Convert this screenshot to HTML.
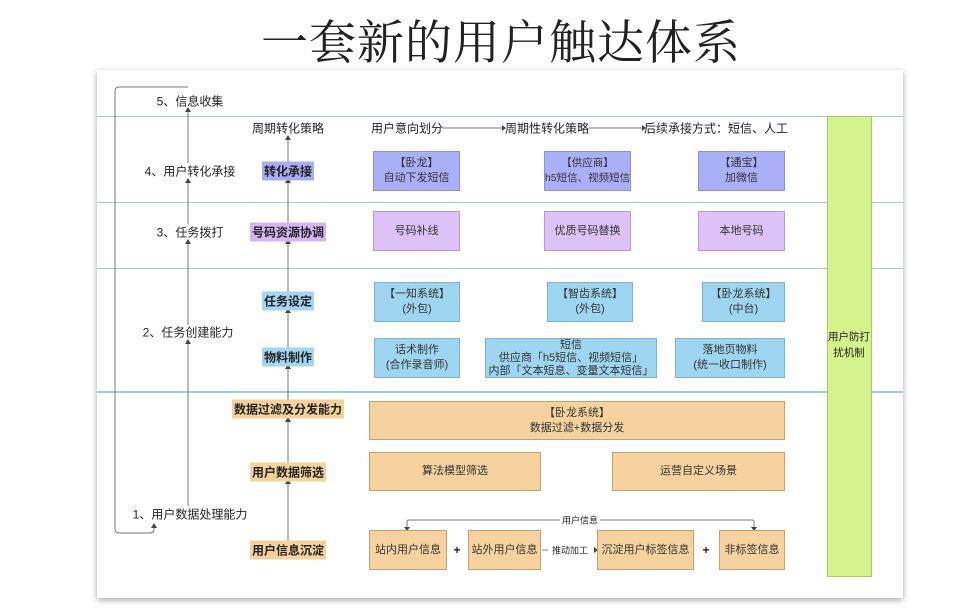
<!DOCTYPE html>
<html><head><meta charset="utf-8"><style>
body{margin:0;width:968px;height:612px;background:#fff;position:relative;overflow:hidden;font-family:"Liberation Sans","Noto Sans CJK SC",sans-serif;color:#222}
.a{position:absolute}
.t{position:absolute;font-size:12px;white-space:nowrap;transform:translate(-50%,-50%)}
.b{position:absolute;display:flex;align-items:center;justify-content:center;text-align:center;font-size:11px;line-height:15px;box-sizing:border-box;color:#333}
.bp{background:#aab0f7;border:1px solid #8b8fd8}
.bl{background:#dcc2f7;border:1px solid #b59ad6}
.bc{background:#9ed6f1;border:1px solid #79b3d0}
.bo{background:#f6d29e;border:1px solid #c9a06a}
.h{position:absolute;left:97px;width:806px;height:1px;background:#9fd0d0}
.tag{padding:1px 2px;font-weight:bold}
</style></head><body>
<div class="a" style="left:0;width:968px;top:6px;text-align:center;font-family:'Noto Serif CJK SC','Liberation Serif',serif;font-size:47px;color:#222;letter-spacing:1px;padding-left:34px;box-sizing:border-box">一套新的用户触达体系</div>
<div class="a" style="left:97px;top:70px;width:806px;height:528px;background:#fff;box-shadow:0 2px 6px rgba(0,0,0,.35)"></div>
<div class="h" style="top:116px"></div><div class="h" style="top:202px"></div><div class="h" style="top:268px"></div><div class="h" style="top:391px;height:2px"></div>
<div class="a" style="left:827px;top:116px;width:45px;height:461px;background:#d4f38a;border:1px solid #a8c86a;box-sizing:border-box"></div>
<div class="t" style="left:849px;top:345px;font-size:10.5px;line-height:16px;text-align:center">用户防打<br>扰机制</div>
<svg class="a" style="left:0;top:0" width="968" height="612">
<g stroke="#777" stroke-width="1" fill="none">
<path d="M188 87 H119 Q115 87 115 91 V529 Q115 533 119 533 H150 Q154 533 154 529 V524"/>
<line x1="188" y1="108" x2="188" y2="163"/><line x1="188" y1="179" x2="188" y2="224"/><line x1="188" y1="240" x2="188" y2="325"/><line x1="188" y1="340" x2="188" y2="506"/>
<line x1="288" y1="136" x2="288" y2="163"/><line x1="288" y1="179" x2="288" y2="224"/><line x1="288" y1="240" x2="288" y2="293"/><line x1="288" y1="309" x2="288" y2="349"/><line x1="288" y1="365" x2="288" y2="401"/><line x1="288" y1="418" x2="288" y2="464"/><line x1="288" y1="480" x2="288" y2="542"/>
<line x1="442" y1="128" x2="503" y2="128"/><line x1="589" y1="128" x2="643" y2="128"/>
<path d="M407 529 V522 Q407 520 409 520 H560 M600 520 H752 Q754 520 754 522 V529"/>
<line x1="542" y1="550" x2="548" y2="550"/>
</g>
<g fill="#444">
<path d="M185 112 L188 107 L191 112Z M185 183 L188 178 L191 183Z M185 244 L188 239 L191 244Z M185 344 L188 339 L191 344Z M151 528 L154 523 L157 528Z"/>
<path d="M285 140 L288 135 L291 140Z M285 183 L288 178 L291 183Z M285 244 L288 239 L291 244Z M285 313 L288 308 L291 313Z M285 369 L288 364 L291 369Z M285 422 L288 417 L291 422Z M285 484 L288 479 L291 484Z"/>
<path d="M502 125 L506 128 L502 131Z M642 125 L646 128 L642 131Z M594 547 L598 550 L594 553Z M404 527 L407 531 L410 527Z M751 527 L754 531 L757 527Z"/>
</g></svg>
<div class="t" style="left:190px;top:101px">5、信息收集</div>
<div class="t" style="left:190px;top:171px">4、用户转化承接</div>
<div class="t" style="left:190px;top:232px">3、任务拨打</div>
<div class="t" style="left:188px;top:332px">2、任务创建能力</div>
<div class="t" style="left:190px;top:514px">1、用户数据处理能力</div>
<div class="t" style="left:288px;top:128px">周期转化策略</div>
<div class="t tag" style="left:288px;top:171px;background:#a9acf5">转化承接</div>
<div class="t tag" style="left:288px;top:232px;background:#d4b6f5">号码资源协调</div>
<div class="t tag" style="left:288px;top:301px;background:#a3d6f2">任务设定</div>
<div class="t tag" style="left:288px;top:357px;background:#a3d6f2">物料制作</div>
<div class="t tag" style="left:288px;top:409px;background:#f5d19c">数据过滤及分发能力</div>
<div class="t tag" style="left:288px;top:472px;background:#f5d19c">用户数据筛选</div>
<div class="t tag" style="left:288px;top:550px;background:#f5d19c">用户信息沉淀</div>
<div class="t" style="left:407px;top:128px">用户意向划分</div>
<div class="t" style="left:547px;top:128px">周期性转化策略</div>
<div class="t" style="left:716px;top:128px">后续承接方式：短信、人工</div>
<div class="b bp" style="left:373px;top:151px;width:87px;height:40px">【卧龙】<br>自动下发短信</div>
<div class="b bp" style="left:544px;top:151px;width:87px;height:40px;font-size:10.5px;white-space:nowrap">【供应商】<br>h5短信、视频短信</div>
<div class="b bp" style="left:698px;top:151px;width:87px;height:40px">【通宝】<br>加微信</div>
<div class="b bl" style="left:373px;top:211px;width:87px;height:40px">号码补线</div>
<div class="b bl" style="left:544px;top:211px;width:87px;height:40px">优质号码替换</div>
<div class="b bl" style="left:698px;top:211px;width:87px;height:40px">本地号码</div>
<div class="b bc" style="left:374px;top:282px;width:86px;height:40px">【一知系统】<br>(外包)</div>
<div class="b bc" style="left:547px;top:282px;width:86px;height:40px">【智齿系统】<br>(外包)</div>
<div class="b bc" style="left:702px;top:282px;width:83px;height:40px">【卧龙系统】<br>(中台)</div>
<div class="b bc" style="left:374px;top:338px;width:86px;height:40px">话术制作<br>(合作录音师)</div>
<div class="b bc" style="left:485px;top:338px;width:172px;height:40px;line-height:13px">短信<br>供应商「h5短信、视频短信」<br>内部「文本短息、变量文本短信」</div>
<div class="b bc" style="left:675px;top:338px;width:110px;height:40px">落地页物料<br>(统一收口制作)</div>
<div class="b bo" style="left:369px;top:401px;width:416px;height:39px">【卧龙系统】<br>数据过滤+数据分发</div>
<div class="b bo" style="left:369px;top:452px;width:172px;height:39px">算法模型筛选</div>
<div class="b bo" style="left:612px;top:452px;width:173px;height:39px">运营自定义场景</div>
<div class="b bo" style="left:369px;top:530px;width:78px;height:40px">站内用户信息</div>
<div class="b bo" style="left:468px;top:530px;width:73px;height:40px">站外用户信息</div>
<div class="b bo" style="left:597px;top:530px;width:97px;height:40px">沉淀用户标签信息</div>
<div class="b bo" style="left:719px;top:530px;width:66px;height:40px">非标签信息</div>
<div class="t" style="left:457px;top:550px;font-weight:bold">+</div>
<div class="t" style="left:706px;top:550px;font-weight:bold">+</div>
<div class="t" style="left:570px;top:550px;font-size:9px">推动加工</div>
<div class="t" style="left:580px;top:520px;font-size:9px">用户信息</div>
</body></html>
